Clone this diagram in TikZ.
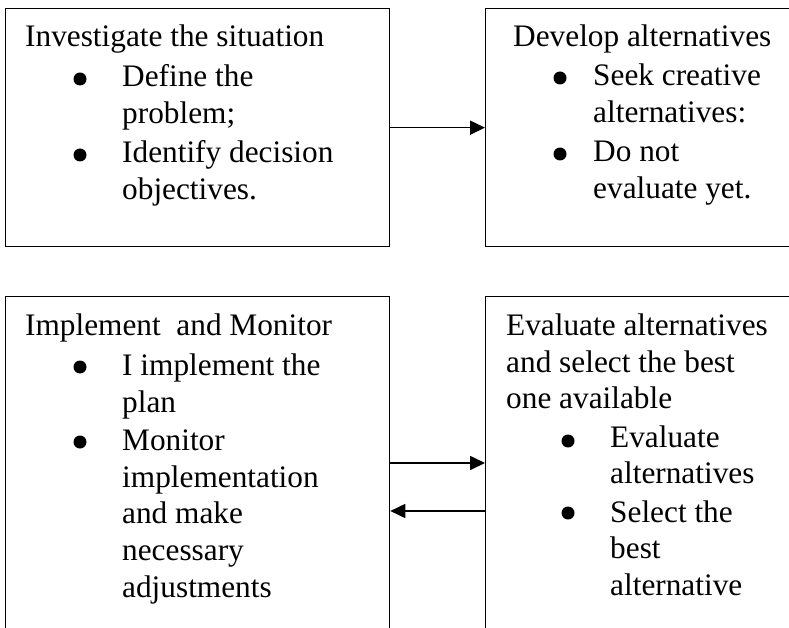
\documentclass[tikz,border=0pt]{standalone}
\usepackage{fontspec}
\setmainfont{Liberation Serif}
\usetikzlibrary{arrows.meta}
\tikzset{
  x=1pt, y=-1pt,
  box/.style={draw, line width=1.3pt, rectangle, inner sep=0pt, anchor=north west},
  txt/.style={anchor=base west, inner sep=0pt, font=\fontsize{31.3}{38}\selectfont},
  bul/.style={circle, fill, inner sep=0pt, minimum size=13pt},
  arr/.style={line width=1.7pt, -{Triangle[length=15pt,width=14pt]}}
}
\begin{document}
\begin{tikzpicture}
\useasboundingbox (0,0) rectangle (789,628);
\clip (0,0) rectangle (789,628);
% boxes
\node[box, minimum width=384pt, minimum height=238pt] (tl) at (5,8) {};
\node[box, minimum width=330pt, minimum height=238pt] (tr) at (485,8) {};
\node[box, minimum width=384pt, minimum height=360pt] (bl) at (5,296) {};
\node[box, minimum width=330pt, minimum height=360pt] (br) at (485,296) {};
% connectors
\draw[arr] (tl.east) -- (tr.west);
\draw[arr] ([yshift=-167pt]bl.north east) -- ([yshift=-167pt]br.north west);
\draw[arr] ([yshift=-215pt]br.north west) -- ([yshift=-215pt]bl.north east);
% top-left text
\node[txt] (tl0) at (25,47) {Investigate the situation};
\node[bul] (tlb1) at (80,79) {};
\node[txt] (tl1) at (122,87) {Define the};
\node[txt] (tl2) at (122,124) {problem;};
\node[bul] (tlb2) at (80,155) {};
\node[txt] (tl3) at (122,163) {Identify decision};
\node[txt] (tl4) at (122,200) {objectives.};
% top-right text
\node[txt] (tr0) at (513,47) {Develop alternatives};
\node[bul] (trb1) at (560,78) {};
\node[txt] (tr1) at (593,86) {Seek creative};
\node[txt] (tr2) at (593,123) {alternatives:};
\node[bul] (trb2) at (560,154) {};
\node[txt] (tr3) at (593,162) {Do not};
\node[txt] (tr4) at (593,199) {evaluate yet.};
% bottom-left text
\node[txt] (bl0) at (25,335) {Implement\ \ and Monitor};
\node[bul] (blb1) at (80,367) {};
\node[txt] (bl1) at (122,375) {I implement the};
\node[txt] (bl2) at (122,412) {plan};
\node[bul] (blb2) at (80,442) {};
\node[txt] (bl3) at (122,450) {Monitor};
\node[txt] (bl4) at (122,487) {implementation};
\node[txt] (bl5) at (122,523) {and make};
\node[txt] (bl6) at (122,560) {necessary};
\node[txt] (bl7) at (122,597) {adjustments};
% bottom-right text
\node[txt] (br0) at (506,335) {Evaluate alternatives};
\node[txt] (br1) at (506,372) {and select the best};
\node[txt] (br2) at (506,408) {one available};
\node[bul] (brb1) at (568,441) {};
\node[txt] (br3) at (610,447) {Evaluate};
\node[txt] (br4) at (610,483) {alternatives};
\node[bul] (brb2) at (568,513) {};
\node[txt] (br5) at (610,522) {Select the};
\node[txt] (br6) at (610,558) {best};
\node[txt] (br7) at (610,595) {alternative};
\end{tikzpicture}
\end{document}
